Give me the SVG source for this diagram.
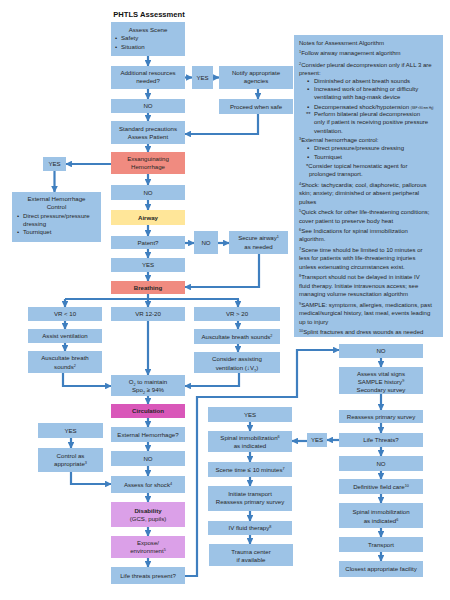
<svg xmlns="http://www.w3.org/2000/svg" width="450" height="600" viewBox="0 0 450 600">
<defs>
<style>
.b{fill:#9dc3e6}
.r{fill:#f08b80}
.y{fill:#ffe699}
.m{fill:#d957b9}
.v{fill:#dba0e8}
text{font-family:"Liberation Sans",Arial,sans-serif;font-size:6.1px;fill:#262626}
.c{text-anchor:middle}
.bo{font-weight:bold}
.n{font-size:6px}
.ti{font-size:7.6px;font-weight:bold;fill:#111}
.sup{font-size:3.8px;baseline-shift:super}
.sub{font-size:3.8px;baseline-shift:sub}
.tiny{font-size:2.8px}
.k{stroke:#3f7fbf;stroke-width:2.2;fill:none}
.a{marker-end:url(#ah)}
</style>
<marker id="ah" viewBox="0 0 10 10" refX="9" refY="5" markerWidth="3" markerHeight="3" orient="auto">
<path d="M0,0 L10,5 L0,10 z" fill="#3f7fbf"/>
</marker>
</defs>
<rect width="450" height="600" fill="#fff"/>
<text id="title" class="ti c" x="149" y="17">PHTLS Assessment</text>

<g id="connectors">
<path class="k a" d="M148,56 V66"/>
<path class="k a" d="M148,89 V99"/>
<path class="k a" d="M148,113 V121"/>
<path class="k a" d="M148,144 V152"/>
<path class="k a" d="M148,174 V185"/>
<path class="k a" d="M148,200 V210"/>
<path class="k a" d="M148,225 V236"/>
<path class="k a" d="M148,249 V258"/>
<path class="k a" d="M148,272 V281"/>
<path class="k a" d="M185,77.5 H192"/>
<path class="k a" d="M213,77.5 H219"/>
<path class="k a" d="M258,89 V99"/>
<path class="k a" d="M258,114 V134 H185"/>
<path class="k a" d="M111,164 H66"/>
<path class="k a" d="M54.5,171 V192"/>
<path class="k a" d="M185,243 H194"/>
<path class="k a" d="M218,243 H229"/>
<path class="k a" d="M259,254 V287 H185"/>
<path class="k" d="M148,294 V299 M65,299 H239"/>
<path class="k a" d="M65,299 V307"/>
<path class="k a" d="M148,299 V307"/>
<path class="k a" d="M238,299 V307"/>
<path class="k a" d="M65,321 V329"/>
<path class="k a" d="M65,343 V351"/>
<path class="k a" d="M63,373 V386 H111"/>
<path class="k a" d="M148,321 V375"/>
<path class="k a" d="M238,321 V329"/>
<path class="k a" d="M238,344 V352"/>
<path class="k a" d="M239,373 V386 H185"/>
<path class="k a" d="M148,396 V404"/>
<path class="k a" d="M148,418 V427"/>
<path class="k a" d="M148,442 V451"/>
<path class="k a" d="M148,466 V476"/>
<path class="k a" d="M148,493 V502"/>
<path class="k a" d="M148,527 V536"/>
<path class="k a" d="M148,558 V567"/>
<path class="k a" d="M71,438 V448"/>
<path class="k a" d="M71,472 V484 H111"/>
<path class="k a" d="M185,576 H197 V397 H297 V350 H339"/>
<path class="k a" d="M381,358 V367"/>
<path class="k a" d="M381,394 V410"/>
<path class="k a" d="M381,423 V433"/>
<path class="k a" d="M381,447 V456"/>
<path class="k a" d="M381,471 V479"/>
<path class="k a" d="M381,494 V503"/>
<path class="k a" d="M381,528 V537"/>
<path class="k a" d="M381,552 V561"/>
<path class="k a" d="M339,440 H327"/>
<path class="k a" d="M307,441 H292"/>
<path class="k a" d="M250,422 V431"/>
<path class="k a" d="M250,452 V462"/>
<path class="k a" d="M250,477 V486"/>
<path class="k a" d="M250,511 V521"/>
<path class="k a" d="M250,535 V544"/>
</g>

<g id="assess-scene"><rect class="b" x="111" y="22" width="74" height="34"/>
<text class="c" x="148" y="32">Assess Scene</text>
<text x="115" y="40">•</text><text x="121" y="40">Safety</text>
<text x="115" y="49">•</text><text x="121" y="49">Situation</text></g>
<g id="additional"><rect class="b" x="111" y="66" width="74" height="23"/>
<text class="c" x="148" y="75">Additional resources</text><text class="c" x="148" y="83">needed?</text></g>
<g id="yes1"><rect class="b" x="192" y="66" width="21" height="23"/><text class="c" x="202.5" y="79.5">YES</text></g>
<g id="notify"><rect class="b" x="219" y="66" width="74" height="23"/>
<text class="c" x="256" y="75">Notify appropriate</text><text class="c" x="256" y="83">agencies</text></g>
<g id="proceed"><rect class="b" x="219" y="99" width="74" height="15"/><text class="c" x="256" y="108.5">Proceed when safe</text></g>
<g id="no1"><rect class="b" x="111" y="99" width="74" height="14"/><text class="c" x="148" y="108">NO</text></g>
<g id="standard"><rect class="b" x="111" y="121" width="74" height="23"/>
<text class="c" x="148" y="131">Standard precautions</text><text class="c" x="148" y="139">Assess Patient</text></g>
<g id="exsang"><rect class="r" x="111" y="152" width="74" height="22"/>
<text class="c" x="148" y="161">Exsanguinating</text><text class="c" x="148" y="169">Hemorrhage</text></g>
<g id="yes2"><rect class="b" x="43" y="157" width="23" height="14"/><text class="c" x="54.5" y="166">YES</text></g>
<g id="ext-control"><rect class="b" x="12" y="192" width="89" height="50"/>
<text class="c" x="56.5" y="201">External Hemorrhage</text><text class="c" x="56.5" y="209">Control</text>
<text x="17" y="218">•</text><text x="23" y="218">Direct pressure/pressure</text>
<text x="23" y="226">dressing</text>
<text x="17" y="234">•</text><text x="23" y="234">Tourniquet</text></g>
<g id="no2"><rect class="b" x="111" y="185" width="74" height="15"/><text class="c" x="148" y="194.5">NO</text></g>
<g id="airway"><rect class="y" x="111" y="210" width="74" height="15"/><text class="c bo" x="148" y="219.5">Airway</text></g>
<g id="patent"><rect class="b" x="111" y="236" width="74" height="13"/><text class="c" x="148" y="244.5">Patent?</text></g>
<g id="no3"><rect class="b" x="194" y="231" width="24" height="23"/><text class="c" x="206" y="244.5">NO</text></g>
<g id="secure"><rect class="b" x="229" y="231" width="59" height="23"/>
<text class="c" x="258.5" y="240">Secure airway<tspan class="sup">1</tspan></text><text class="c" x="258.5" y="249">as needed</text></g>
<g id="yes3"><rect class="b" x="111" y="258" width="74" height="14"/><text class="c" x="148" y="267">YES</text></g>
<g id="breathing"><rect class="r" x="111" y="281" width="74" height="13"/><text class="c bo" x="148" y="290">Breathing</text></g>
<g id="vr-lt10"><rect class="b" x="28" y="307" width="74" height="14"/><text class="c" x="65" y="316">VR &lt; 10</text></g>
<g id="vr-12-20"><rect class="b" x="111" y="307" width="74" height="14"/><text class="c" x="148" y="316">VR 12-20</text></g>
<g id="vr-gt20"><rect class="b" x="194" y="307" width="86" height="14"/><text class="c" x="237" y="316">VR &gt; 20</text></g>
<g id="assist"><rect class="b" x="28" y="329" width="74" height="14"/><text class="c" x="65" y="338">Assist ventilation</text></g>
<g id="auscultate1"><rect class="b" x="28" y="351" width="74" height="22"/>
<text class="c" x="65" y="360">Auscultate breath</text><text class="c" x="65" y="369">sounds<tspan class="sup">2</tspan></text></g>
<g id="auscultate2"><rect class="b" x="194" y="329" width="86" height="15"/><text class="c" x="237" y="338.5">Auscultate breath sounds<tspan class="sup">2</tspan></text></g>
<g id="consider"><rect class="b" x="194" y="352" width="86" height="21"/>
<text class="c" x="237" y="361">Consider assisting</text><text class="c" x="237" y="370">ventilation (↓V<tspan class="sub">T</tspan>)</text></g>
<g id="o2"><rect class="b" x="111" y="375" width="74" height="21"/>
<text class="c" x="148" y="384">O<tspan class="sub">2</tspan> to maintain</text><text class="c" x="148" y="392">Spo<tspan class="sub">2</tspan> ≥ 94%</text></g>
<g id="circulation"><rect class="m" x="111" y="404" width="74" height="14"/><text class="c bo" x="148" y="413">Circulation</text></g>
<g id="ext-hem-q"><rect class="b" x="111" y="427" width="74" height="15"/><text class="c" x="148" y="436.5">External Hemorrhage?</text></g>
<g id="yes4"><rect class="b" x="38" y="423" width="65" height="15"/><text class="c" x="70.5" y="432.5">YES</text></g>
<g id="control"><rect class="b" x="38" y="448" width="65" height="24"/>
<text class="c" x="70.5" y="458">Control as</text><text class="c" x="70.5" y="466">appropriate<tspan class="sup">3</tspan></text></g>
<g id="no4"><rect class="b" x="111" y="451" width="74" height="15"/><text class="c" x="148" y="460.5">NO</text></g>
<g id="shock"><rect class="b" x="111" y="476" width="74" height="17"/><text class="c" x="148" y="486.5">Assess for shock<tspan class="sup">4</tspan></text></g>
<g id="disability"><rect class="v" x="111" y="502" width="74" height="25"/>
<text class="c bo" x="148" y="513">Disability</text><text class="c" x="148" y="521">(GCS, pupils)</text></g>
<g id="expose"><rect class="v" x="111" y="536" width="74" height="22"/>
<text class="c" x="148" y="545">Expose/</text><text class="c" x="148" y="553">environment<tspan class="sup">5</tspan></text></g>
<g id="life-threats-present"><rect class="b" x="111" y="567" width="74" height="17"/><text class="c" x="148" y="578">Life threats present?</text></g>
<g id="yes5"><rect class="b" x="208" y="407" width="84" height="15"/><text class="c" x="250" y="416.5">YES</text></g>
<g id="spinal1"><rect class="b" x="208" y="431" width="84" height="21"/>
<text class="c" x="250" y="439.5">Spinal immobilization<tspan class="sup">6</tspan></text><text class="c" x="250" y="448">as indicated</text></g>
<g id="scene-time"><rect class="b" x="208" y="462" width="84" height="15"/><text class="c" x="250" y="471.5">Scene time ≤ 10 minutes<tspan class="sup">7</tspan></text></g>
<g id="initiate"><rect class="b" x="208" y="486" width="84" height="25"/>
<text class="c" x="250" y="496">Initiate transport</text><text class="c" x="250" y="504">Reassess primary survey</text></g>
<g id="iv"><rect class="b" x="208" y="521" width="84" height="14"/><text class="c" x="250" y="530">IV fluid therapy<tspan class="sup">8</tspan></text></g>
<g id="trauma"><rect class="b" x="209" y="544" width="84" height="22"/>
<text class="c" x="251" y="554">Trauma center</text><text class="c" x="251" y="562">if available</text></g>
<g id="no5"><rect class="b" x="339" y="344" width="84" height="14"/><text class="c" x="381" y="353">NO</text></g>
<g id="vitals"><rect class="b" x="339" y="367" width="84" height="27"/>
<text class="c" x="381" y="376">Assess vital signs</text><text class="c" x="381" y="384">SAMPLE history<tspan class="sup">9</tspan></text><text class="c" x="381" y="391.5">Secondary survey</text></g>
<g id="reassess"><rect class="b" x="339" y="410" width="84" height="13"/><text class="c" x="381" y="419">Reassess primary survey</text></g>
<g id="life-threats"><rect class="b" x="339" y="433" width="84" height="14"/><text class="c" x="381" y="442">Life Threats?</text></g>
<g id="yes6"><rect class="b" x="307" y="433" width="20" height="14"/><text class="c" x="317" y="442">YES</text></g>
<g id="no6"><rect class="b" x="339" y="456" width="84" height="15"/><text class="c" x="381" y="465.5">NO</text></g>
<g id="definitive"><rect class="b" x="339" y="479" width="84" height="15"/><text class="c" x="381" y="488.5">Definitive field care<tspan class="sup">10</tspan></text></g>
<g id="spinal2"><rect class="b" x="339" y="503" width="84" height="25"/>
<text class="c" x="381" y="514">Spinal immobilization</text><text class="c" x="381" y="523">as indicated<tspan class="sup">6</tspan></text></g>
<g id="transport"><rect class="b" x="339" y="537" width="84" height="15"/><text class="c" x="381" y="546.5">Transport</text></g>
<g id="closest"><rect class="b" x="339" y="561" width="84" height="16"/><text class="c" x="381" y="571">Closest appropriate facility</text></g>

<g id="notes"><rect class="b" x="294" y="35" width="149" height="302"/>
<text class="n" x="299" y="45">Notes for Assessment Algorithm</text>
<text class="n" x="299" y="55"><tspan class="sup">1</tspan>Follow airway management algorithm</text>
<text class="n" x="299" y="67"><tspan class="sup">2</tspan>Consider pleural decompression only if ALL 3 are</text>
<text class="n" x="299" y="75">present:</text>
<text class="n" x="307" y="83">▪</text><text class="n" x="314" y="83">Diminished or absent breath sounds</text>
<text class="n" x="307" y="91">▪</text><text class="n" x="314" y="91">Increased work of breathing or difficulty</text>
<text class="n" x="314" y="99">ventilating with bag-mask device</text>
<text class="n" x="307" y="109">▪</text><text class="n" x="314" y="109">Decompensated shock/hypotension <tspan class="tiny">(SBP &lt;90 mm Hg)</tspan></text>
<text class="n" x="306" y="116">**</text><text class="n" x="314" y="116">Perform bilateral pleural decompression</text>
<text class="n" x="314" y="124">only if patient is receiving positive pressure</text>
<text class="n" x="314" y="133">ventilation.</text>
<text class="n" x="299" y="142"><tspan class="sup">3</tspan>External hemorrhage control:</text>
<text class="n" x="307" y="150">▪</text><text class="n" x="314" y="150">Direct pressure/pressure dressing</text>
<text class="n" x="307" y="159">▪</text><text class="n" x="314" y="159">Tourniquet</text>
<text class="n" x="306" y="168">*Consider topical hemostatic agent for</text>
<text class="n" x="309" y="176">prolonged transport.</text>
<text class="n" x="299" y="187"><tspan class="sup">4</tspan>Shock: tachycardia; cool, diaphoretic, pallorous</text>
<text class="n" x="299" y="195">skin; anxiety; diminished or absent peripheral</text>
<text class="n" x="299" y="204">pulses</text>
<text class="n" x="299" y="214"><tspan class="sup">5</tspan>Quick check for other life-threatening conditions;</text>
<text class="n" x="299" y="223">cover patient to preserve body heat</text>
<text class="n" x="299" y="233"><tspan class="sup">6</tspan>See Indications for spinal immobilization</text>
<text class="n" x="299" y="241">algorithm.</text>
<text class="n" x="299" y="252"><tspan class="sup">7</tspan>Scene time should be limited to 10 minutes or</text>
<text class="n" x="299" y="260">less for patients with life-threatening injuries</text>
<text class="n" x="299" y="269">unless extenuating circumstances exist.</text>
<text class="n" x="299" y="279"><tspan class="sup">8</tspan>Transport should not be delayed in initiate IV</text>
<text class="n" x="299" y="288">fluid therapy. Initiate intravenous access; see</text>
<text class="n" x="299" y="296">managing volume resuscitation algorithm</text>
<text class="n" x="299" y="307"><tspan class="sup">9</tspan>SAMPLE: symptoms, allergies, medications, past</text>
<text class="n" x="299" y="315">medical/surgical history, last meal, events leading</text>
<text class="n" x="299" y="324">up to injury</text>
<text class="n" x="299" y="334"><tspan class="sup">10</tspan>Splint fractures and dress wounds as needed</text>
</g>
</svg>
